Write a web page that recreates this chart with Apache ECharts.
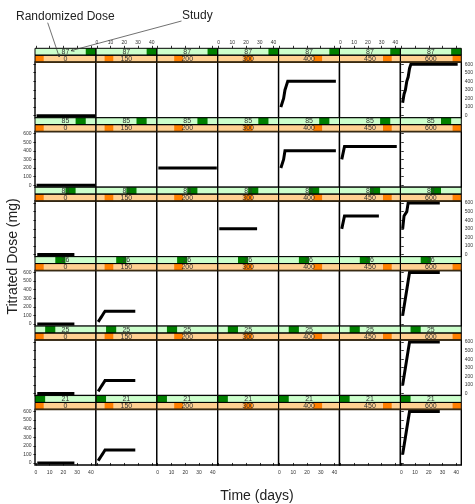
<!DOCTYPE html>
<html><head><meta charset="utf-8">
<script src="https://cdn.jsdelivr.net/npm/echarts@6/dist/echarts.min.js"></script>
<style>html,body{margin:0;padding:0;background:#fff}#c{width:475px;height:504px}</style>
</head><body><div id="c"></div>
<script>
// ---------- data ----------
const studyRows = ['87', '85', '83', '26', '25', '21'];      // panel rows, top to bottom
const studyLevels = ['21', '25', '26', '83', '85', '87'];    // factor order (strip indicator)
const doseCols = ['0', '150', '200', '300', '400', '450', '600']; // panel columns / factor order
const xTickValues = [0, 10, 20, 30, 40];
const yTickValues = [0, 100, 200, 300, 400, 500, 600];
const xRange = [-0.64, 43.64];
const yRange = [-24, 624];

// titrated dose, [day, mg]
const s87_0 = [[0.5, 0], [43, 0]];
const s87_400 = [[1, 100], [2, 150], [3, 200], [4, 300], [5, 350], [6, 400], [41, 400]];
const s87_600 = [[1, 150], [2, 250], [3, 300], [4, 400], [5, 450], [6, 550], [7, 600], [41, 600]];
const s85_0 = [[0.5, 0], [43, 0]];
const s85_200 = [[0.5, 200], [43, 200]];
const s85_400 = [[1, 200], [2, 200], [3, 300], [4, 400], [41, 400]];
const s85_450 = [[1, 300], [2, 300], [3, 450], [41, 450]];
const s83_0 = [[1, 0], [28, 0]];
const s83_300 = [[0.5, 300], [28, 300]];
const s83_450 = [[1, 300], [2, 300], [3, 450], [28, 450]];
const s83_600 = [[1, 300], [2, 300], [2, 450], [3, 450], [4, 500], [5, 600], [28, 600]];
const s26_0 = [[1, 0], [28, 0]];
const s26_150 = [[1, 25], [2, 50], [3, 75], [4, 100], [5, 125], [6, 150], [28, 150]];
const s26_600 = [[1, 100], [2, 200], [3, 300], [4, 400], [5, 500], [6, 600], [28, 600]];
const s25_0 = [[1, 0], [28, 0]];
const s25_150 = [[1, 25], [2, 50], [3, 75], [4, 100], [5, 125], [6, 150], [28, 150]];
const s25_600 = [[1, 100], [2, 200], [3, 300], [4, 400], [5, 500], [6, 600], [28, 600]];
const s21_0 = [[1, 0], [28, 0]];
const s21_150 = [[1, 25], [2, 50], [3, 75], [4, 100], [5, 125], [6, 150], [28, 150]];
const s21_600 = [[1, 100], [2, 200], [3, 300], [4, 400], [5, 500], [6, 600], [28, 600]];

const panels = [
  { study: '87', dose: '0', data: s87_0 }, { study: '87', dose: '400', data: s87_400 }, { study: '87', dose: '600', data: s87_600 },
  { study: '85', dose: '0', data: s85_0 }, { study: '85', dose: '200', data: s85_200 }, { study: '85', dose: '400', data: s85_400 }, { study: '85', dose: '450', data: s85_450 },
  { study: '83', dose: '0', data: s83_0 }, { study: '83', dose: '300', data: s83_300 }, { study: '83', dose: '450', data: s83_450 }, { study: '83', dose: '600', data: s83_600 },
  { study: '26', dose: '0', data: s26_0 }, { study: '26', dose: '150', data: s26_150 }, { study: '26', dose: '600', data: s26_600 },
  { study: '25', dose: '0', data: s25_0 }, { study: '25', dose: '150', data: s25_150 }, { study: '25', dose: '600', data: s25_600 },
  { study: '21', dose: '0', data: s21_0 }, { study: '21', dose: '150', data: s21_150 }, { study: '21', dose: '600', data: s21_600 }
];

// ---------- layout ----------
const L = 35, R = 461.3, T = 48.3, B = 465, stripH = 6.9;
const nC = doseCols.length, nR = studyRows.length;
const colW = (R - L) / nC, rowH = (B - T) / nR, panelH = rowH - 2 * stripH;
const FONT = 'Liberation Sans, Arial, sans-serif';
const tickLab = { fontSize: 5, color: '#333', fontFamily: FONT };

const grids = [], xAxes = [], yAxes = [], series = [], graphics = [];
for (let r = 0; r < nR; r++) {
  for (let c = 0; c < nC; c++) {
    const gi = r * nC + c;
    grids.push({ left: L + c * colW, top: T + r * rowH + 2 * stripH, width: colW, height: panelH,
      show: true, borderColor: '#000', borderWidth: 1.4, backgroundColor: '#fff', outerBoundsMode: 'none' });
    xAxes.push({ gridIndex: gi, type: 'value', min: xRange[0], max: xRange[1], position: 'bottom',
      axisLine: { show: false }, splitLine: { show: false },
      axisTick: { show: r === nR - 1, customValues: xTickValues, length: 2.5, lineStyle: { color: '#000', width: 0.8 } },
      axisLabel: Object.assign({ show: r === nR - 1 && c % 2 === 0, customValues: xTickValues, margin: 5 }, tickLab) });
    const side = c === nC - 1 ? 'right' : 'left';
    const edge = c === 0 || c === nC - 1;
    const labY = (c === 0 && r % 2 === 1) || (c === nC - 1 && r % 2 === 0);
    yAxes.push({ gridIndex: gi, type: 'value', min: yRange[0], max: yRange[1], position: side,
      axisLine: { show: false }, splitLine: { show: false },
      axisTick: { show: edge, customValues: yTickValues, length: 2.5, lineStyle: { color: '#000', width: 0.8 } },
      axisLabel: Object.assign({ show: labY, customValues: yTickValues, margin: 3.5 }, tickLab) });
  }
}
// top axes above strips for the first row
for (let c = 0; c < nC; c++) {
  xAxes.push({ gridIndex: c, type: 'value', min: xRange[0], max: xRange[1], position: 'top', offset: 2 * stripH,
    axisLine: { show: false }, splitLine: { show: false },
    axisTick: { show: true, customValues: xTickValues, length: 2.5, lineStyle: { color: '#000', width: 0.8 } },
    axisLabel: Object.assign({ show: c % 2 === 1, customValues: xTickValues, margin: 3 }, tickLab) });
}

panels.forEach(p => {
  const r = studyRows.indexOf(p.study), c = doseCols.indexOf(p.dose);
  const gi = r * nC + c;
  series.push({ type: 'line', xAxisIndex: gi, yAxisIndex: gi, data: p.data, showSymbol: false,
    lineStyle: { color: '#000', width: 3, cap: 'butt', join: 'miter' }, silent: true, animation: false, z: 3 });
});

// strips (Study on top, Randomized Dose below)
for (let r = 0; r < nR; r++) {
  for (let c = 0; c < nC; c++) {
    const x0 = L + c * colW, y0 = T + r * rowH;
    const si = studyLevels.indexOf(studyRows[r]);
    const sw = colW / studyLevels.length;
    const dw = colW / doseCols.length;
    graphics.push({ type: 'rect', shape: { x: x0, y: y0, width: colW, height: stripH }, style: { fill: '#ccffcc' }, z: 10 });
    graphics.push({ type: 'rect', shape: { x: x0 + si * sw, y: y0, width: sw, height: stripH }, style: { fill: '#007f00' }, z: 11 });
    graphics.push({ type: 'text', x: x0 + colW / 2, y: y0 + stripH / 2 + 0.3, style: { text: studyRows[r], fill: '#333', fontSize: 7, fontFamily: FONT, align: 'center', verticalAlign: 'middle' }, z: 12 });
    graphics.push({ type: 'rect', shape: { x: x0, y: y0, width: colW, height: stripH }, style: { fill: 'none', stroke: '#000', lineWidth: 1 }, z: 13 });
    const y1 = y0 + stripH;
    graphics.push({ type: 'rect', shape: { x: x0, y: y1, width: colW, height: stripH }, style: { fill: '#ffd091' }, z: 10 });
    graphics.push({ type: 'rect', shape: { x: x0 + c * dw, y: y1, width: dw, height: stripH }, style: { fill: '#ff7f00' }, z: 11 });
    graphics.push({ type: 'text', x: x0 + colW / 2, y: y1 + stripH / 2 + 0.3, style: { text: doseCols[c], fill: '#333', fontSize: 7, fontFamily: FONT, align: 'center', verticalAlign: 'middle' }, z: 12 });
    graphics.push({ type: 'rect', shape: { x: x0, y: y1, width: colW, height: stripH }, style: { fill: 'none', stroke: '#000', lineWidth: 1 }, z: 13 });
    graphics.push({ type: 'line', shape: { x1: x0, y1: y1 + stripH, x2: x0 + colW, y2: y1 + stripH }, style: { stroke: '#3a2a10', lineWidth: 1.6 }, z: 13 });
  }
}

// annotations
function arrow(x1, y1, x2, y2) {
  const a = Math.atan2(y2 - y1, x2 - x1), h = 3.5, s = 0.45;
  graphics.push({ type: 'line', shape: { x1, y1, x2, y2 }, style: { stroke: '#333', lineWidth: 0.7 }, z: 20 });
  graphics.push({ type: 'polyline', shape: { points: [
    [x2 - h * Math.cos(a - s), y2 - h * Math.sin(a - s)], [x2, y2], [x2 - h * Math.cos(a + s), y2 - h * Math.sin(a + s)]] },
    style: { stroke: '#333', lineWidth: 0.7, fill: 'none' }, z: 20 });
}
graphics.push({ type: 'text', x: 16, y: 17, style: { text: 'Randomized Dose', fontSize: 12, fontFamily: FONT, fill: '#222', verticalAlign: 'middle' }, z: 20 });
graphics.push({ type: 'text', x: 182, y: 15.5, style: { text: 'Study', fontSize: 12, fontFamily: FONT, fill: '#222', verticalAlign: 'middle' }, z: 20 });
arrow(47.7, 22.7, 59.3, 57);
arrow(181.5, 21, 71, 50.7);
graphics.push({ type: 'text', x: 13.5, y: 256.5, rotation: Math.PI / 2, style: { text: 'Titrated Dose (mg)', fontSize: 14, fontFamily: FONT, fill: '#222', align: 'center', verticalAlign: 'middle' }, z: 20 });
graphics.push({ type: 'text', x: 257, y: 496, style: { text: 'Time (days)', fontSize: 14, fontFamily: FONT, fill: '#222', align: 'center', verticalAlign: 'middle' }, z: 20 });

const chart = echarts.init(document.getElementById('c'), null, { renderer: 'canvas' });
chart.setOption({ animation: false, backgroundColor: '#fff', grid: grids, xAxis: xAxes, yAxis: yAxes, series: series, graphic: graphics });
</script></body></html>
